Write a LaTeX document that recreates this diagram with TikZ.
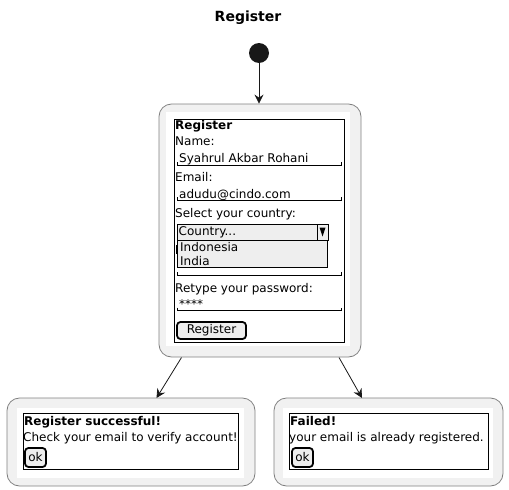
\documentclass[tikz,border=0pt]{standalone}
\usepackage{fontspec}
\setmainfont{DejaVu Sans}
\usetikzlibrary{arrows.meta}
\definecolor{statebg}{HTML}{F1F1F1}
\definecolor{stateln}{HTML}{808080}
\definecolor{widgetbg}{HTML}{EEEEEE}
\definecolor{ink}{HTML}{181818}
\tikzset{
	state/.style={draw=stateln,fill=statebg,rounded corners=12.5pt,line width=0.8pt,inner sep=0pt},
	lbl/.style={anchor=base west,inner sep=0pt,font=\fontsize{12}{14}\selectfont},
	head/.style={anchor=base west,inner sep=0pt,font=\fontsize{12}{14}\selectfont\bfseries},
	btn/.style={draw,line width=1.8pt,rounded corners=3.5pt,fill=widgetbg,inner sep=0pt,font=\fontsize{12}{14}\selectfont},
	arr/.style={ink,line width=0.8pt,-{Stealth[length=9pt,width=9pt,inset=3pt]}},
}
\begin{document}
\begin{tikzpicture}[x=1pt,y=-1pt]
		\useasboundingbox (0,0) rectangle (509,490);
		\node[font=\fontsize{14}{16}\selectfont\bfseries] (title) at (248,18) {Register};
		\node[circle,fill=ink,minimum size=20pt,inner sep=0pt] (start) at (259,53) {};
		\node[state,minimum width=202pt,minimum height=253pt] (reg) at (260,230.5) {};
		\node[state,minimum width=248pt,minimum height=88pt] (done) at (131,442) {};
		\node[state,minimum width=229pt,minimum height=88pt] (fail) at (388.5,442) {};
		\fill[white] (166,112) rectangle (350,346);
		\fill[white] (17,408) rectangle (244,478);
		\fill[white] (283,408) rectangle (493,478);
		\draw[line width=0.8pt] (174,119) rectangle (344,342);
		\draw[line width=0.8pt] (23,413) rectangle (238,469);
		\draw[line width=0.8pt] (289,413) rectangle (488,469);
		% main form
		\node[head] (hreg) at (175,129.5) {Register};
		\node[lbl] (lname) at (175,145.5) {Name:};
		\node[lbl] (vname) at (179,162.5) {Syahrul Akbar Rohani};
		\node[lbl] (lmail) at (175,181) {Email:};
		\node[lbl] (vmail) at (179,198) {adudu@cindo.com};
		\node[lbl] (lctry) at (175,217.5) {Select your country:};
		\draw[line width=1.2pt] (176.3,245)--(176.3,254);
		\node[lbl] (lrepw) at (175,292) {Retype your password:};
		\node[lbl] (vrepw) at (179,308) {****};
		\foreach \y in{165,200,275,310.5}{
			\draw[line width=0.8pt] (177,\y-3)--(177,\y)--(341,\y)--(341,\y-3);
		}
		\draw[line width=0.8pt,fill=widgetbg] (177,224)rectangle(328,240);
		\draw[line width=0.8pt] (317,224)--(317,240);
		\fill (319.5,227.5)--(325.5,227.5)--(322.5,236.5)--cycle;
		\node[lbl] (vctry) at (178.5,235.5) {Country...};
		\draw[line width=0.8pt,fill=widgetbg] (177,240)rectangle(327,267);
		\node[lbl] (opt1) at (180,251.5) {Indonesia};
		\node[lbl] (opt2) at (180,265) {India};
		\node[btn,minimum width=69pt,minimum height=17pt] (breg) at (211.5,330.5) {Register};
		% results
		\node[head] (hdone) at (24,425) {Register successful!};
		\node[lbl] (tdone) at (23,441) {Check your email to verify account!};
		\node[btn,minimum width=21pt,minimum height=19pt] (okdone) at (35.5,457.5) {ok};
		\node[head] (hfail) at (290,425) {Failed!};
		\node[lbl] (tfail) at (289,441) {your email is already registered.};
		\node[btn,minimum width=21pt,minimum height=19pt] (okfail) at (302.5,457.5) {ok};
		% transitions
		\coordinate (regL) at (181.5,357.5);
		\coordinate (regR) at (339,357.5);
		\coordinate (doneT) at (156.5,398);
		\coordinate (failT) at (362,398);
		\draw[arr] (start.south)--(start.south|-reg.north);
		\draw[arr] (regL)--(doneT);
		\draw[arr] (regR)--(failT);
	\end{tikzpicture}
\end{document}
